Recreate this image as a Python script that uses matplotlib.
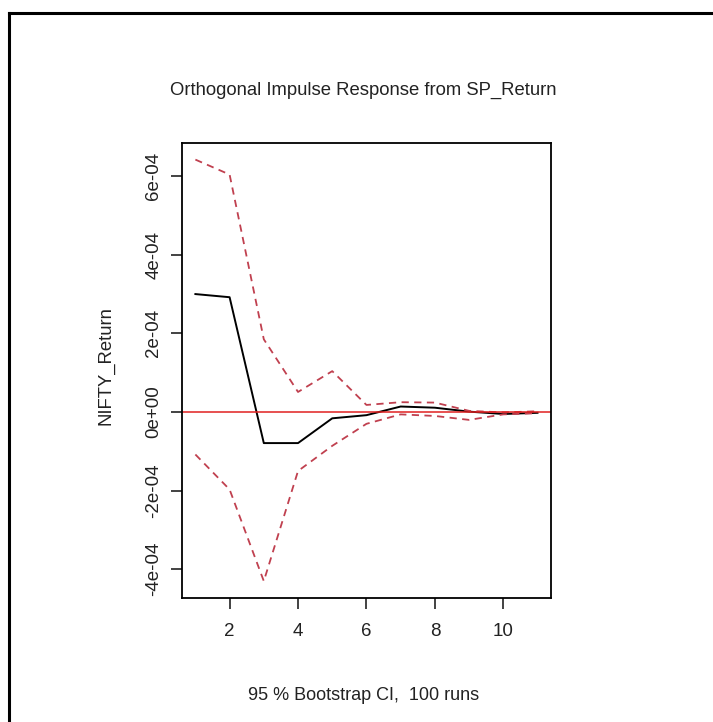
"orthogonal impulse response plot, SP_Return -> NIFTY_Return"
import numpy as np
import matplotlib
matplotlib.use("Agg")
from matplotlib import pyplot as plt

plt.rcParams['font.family'] = ['Liberation Sans', 'DejaVu Sans']

steps = [1, 2, 3, 4, 5, 6, 7, 8, 9, 10, 11]
irf = [3.0e-4, 2.92e-4, -0.79e-4, -0.79e-4, -0.16e-4, -0.08e-4,
       0.14e-4, 0.11e-4, 0.01e-4, -0.05e-4, -0.02e-4]
upper = [6.42e-4, 6.04e-4, 1.85e-4, 0.51e-4, 1.04e-4, 0.18e-4,
         0.25e-4, 0.24e-4, 0.03e-4, -0.01e-4, 0.02e-4]
lower = [-1.08e-4, -1.97e-4, -4.3e-4, -1.5e-4, -0.86e-4, -0.3e-4,
         -0.06e-4, -0.1e-4, -0.2e-4, -0.06e-4, -0.03e-4]
xticks = [2, 4, 6, 8, 10]
yticks = [-4e-4, -2e-4, 0, 2e-4, 4e-4, 6e-4]
ytick_labels = ["-4e-04", "-2e-04", "0e+00", "2e-04", "4e-04", "6e-04"]

fig = plt.figure(figsize=(7.13, 7.22), dpi=100)
# outer frame (only top and left visible in the reference)
fig.add_artist(plt.Line2D([9/713, 9/713], [0, 1 - 13/722], color='black', lw=2.2))
fig.add_artist(plt.Line2D([9/713, 1], [1 - 13/722, 1 - 13/722], color='black', lw=2.2))

ax = fig.add_axes([181.7/713, 1 - 598/722, 369.5/713, 455.3/722])
ax.plot(steps, irf, color='black', lw=1.4)
ax.plot(steps, upper, color='#c0404f', lw=1.3, ls=(0, (4, 3)))
ax.plot(steps, lower, color='#c0404f', lw=1.3, ls=(0, (4, 3)))
ax.axhline(0, color='#e02020', lw=1.1)

ax.set_xlim(0.6, 11.4)
ax.set_ylim(-4.73e-4, 6.85e-4)
ax.set_xticks(xticks)
ax.set_yticks(yticks)
ax.set_yticklabels(ytick_labels, rotation=90, va='center')
ax.tick_params(axis='both', length=8, width=1.2, labelsize=13.5,
               colors='#222222')
ax.tick_params(axis='x', pad=10)
ax.tick_params(axis='y', pad=6)
for s in ax.spines.values():
    s.set_linewidth(1.3)

fig.text(363/713, 1 - 90/722, "Orthogonal Impulse Response from SP_Return",
         ha='center', va='center', fontsize=13.3, color='#222222')
fig.text(364/713, 1 - 695/722, "95 % Bootstrap CI,  100 runs",
         ha='center', va='center', fontsize=13, color='#222222')
fig.text(106/713, 1 - 366/722, "NIFTY_Return", rotation=90,
         ha='center', va='center', fontsize=13.3, color='#222222')

fig.savefig("out.png", dpi=100)
